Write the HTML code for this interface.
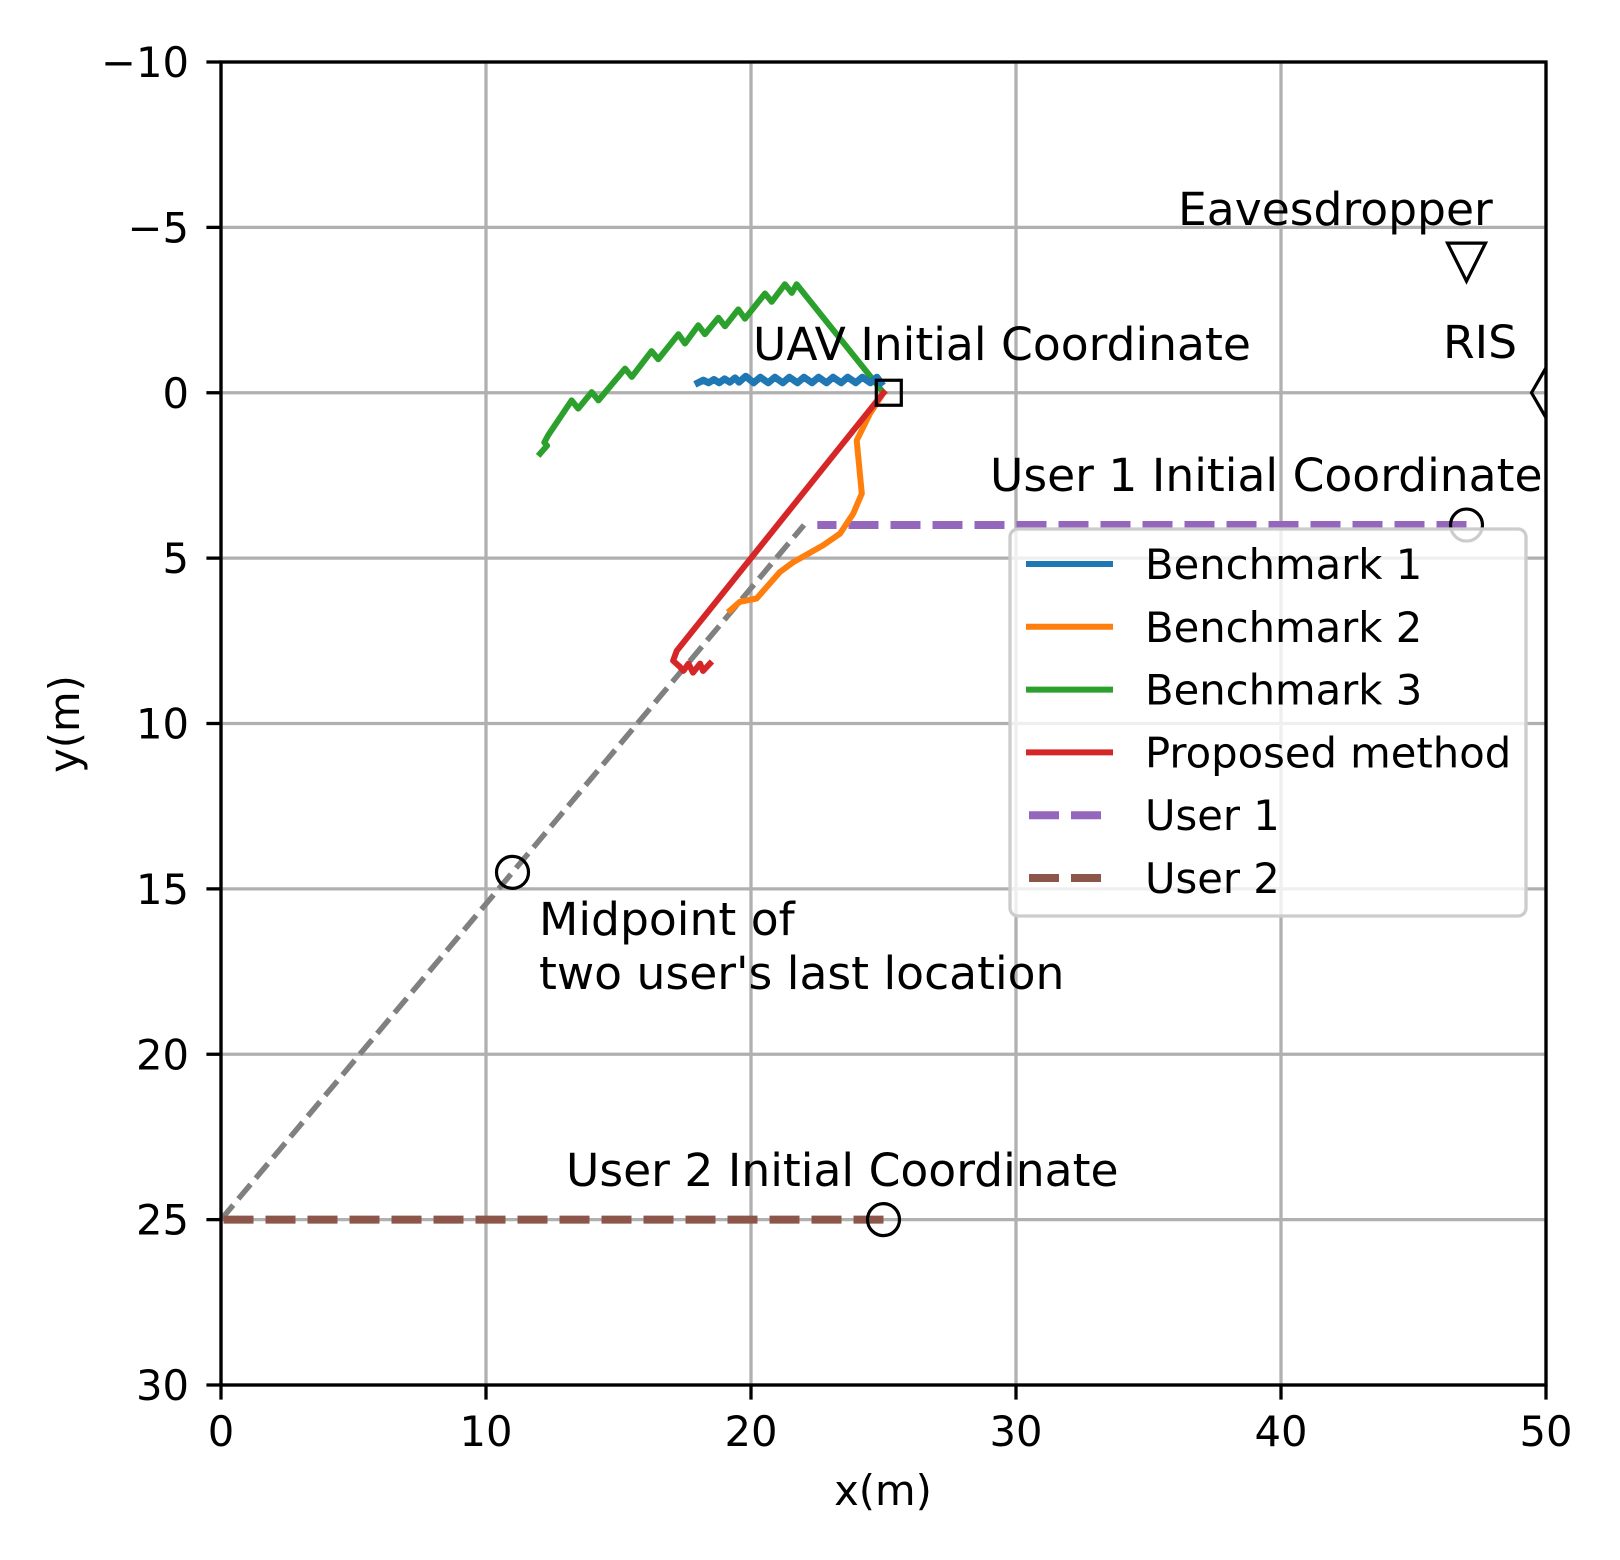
<!DOCTYPE html>
<html><head><meta charset="utf-8"><style>
html,body{margin:0;padding:0;background:#fff;}
svg{display:block;}
text{font-family:"DejaVu Sans","Liberation Sans",sans-serif;fill:#000;}
</style></head><body>
<svg id="chart" width="1620" height="1560" viewBox="0 0 1620 1560" xmlns="http://www.w3.org/2000/svg">
<defs><clipPath id="plotclip"><rect x="221" y="62" width="1325" height="1323"/></clipPath></defs>
<rect width="1620" height="1560" fill="#fff"/>
<g id="grid"></g>
<g id="series"></g>
<g id="markers" clip-path="url(#plotclip)"></g>
<g id="annotations"></g>
<g id="axes"></g>
<g id="legend"></g>
</svg>
<script>
const xTicks = [0,10,20,30,40,50];
const yTicks = [-10,-5,0,5,10,15,20,25,30];
const yTickLabels = ["\u221210","\u22125","0","5","10","15","20","25","30"];

const b1X = [24.9,24.75,24.5,24.2,23.95,23.65,23.4,23.1,22.85,22.55,22.3,22.0,21.75,21.45,21.2,20.9,20.65,20.35,20.1,19.8,19.55,19.4,19.2,19.0,18.8,18.6,18.4,18.2,18.0];
const b1Y = [-0.3,-0.47,-0.3,-0.47,-0.3,-0.47,-0.3,-0.47,-0.3,-0.47,-0.3,-0.47,-0.3,-0.47,-0.3,-0.47,-0.3,-0.47,-0.3,-0.5,-0.32,-0.45,-0.32,-0.42,-0.3,-0.4,-0.3,-0.38,-0.3];

const b2X = [25,24.49,23.99,24.18,23.86,23.36,22.73,21.6,21.09,20.21,19.58,19.21];
const b2Y = [0,0.63,1.44,3.05,3.65,4.26,4.61,5.12,5.42,6.22,6.32,6.58];

const b3X = [25,21.72,21.54,21.28,20.78,20.53,19.77,19.52,19.02,18.77,18.26,18.01,17.51,17.26,16.5,16.25,15.5,15.25,14.24,13.99,13.48,13.23,12.35,12.2,12.3,12.04];
const b3Y = [0,-3.28,-3.02,-3.28,-2.75,-3.0,-2.24,-2.52,-2.01,-2.27,-1.77,-2.04,-1.49,-1.77,-1.01,-1.26,-0.48,-0.73,0.23,-0.02,0.48,0.23,1.28,1.5,1.6,1.84];

const pmX = [25,17.2,17.06,17.32,17.45,17.64,17.81,18.08,18.19,18.45];
const pmY = [0,7.8,8.1,8.29,8.41,8.19,8.46,8.19,8.41,8.19];

const u1X = [47,22.5];
const u1Y = [4,4];
const u2X = [25,0];
const u2Y = [25,25];
const guideX = [0,22];
const guideY = [25,4];

const L=221,R=1546,T=62,B=1385;
function sx(v){return L+(v-0)/(50-0)*(R-L);}
function sy(v){return T+(v-(-10))/(30-(-10))*(B-T);}
const NS="http://www.w3.org/2000/svg";
function mk(tag,attrs,parent){const e=document.createElementNS(NS,tag);for(const k in attrs)e.setAttribute(k,attrs[k]);parent.appendChild(e);return e;}
const grid=document.getElementById('grid'),series=document.getElementById('series'),markers=document.getElementById('markers'),ann=document.getElementById('annotations'),axes=document.getElementById('axes'),legend=document.getElementById('legend');

xTicks.forEach(v=>{const l=mk('line',{x1:sx(v),x2:sx(v),y1:T,y2:B,stroke:'#b0b0b0','stroke-width':3.3},grid);

});
yTicks.forEach(v=>{const l=mk('line',{x1:L,x2:R,y1:sy(v),y2:sy(v),stroke:'#b0b0b0','stroke-width':3.3},grid);

});

function path(xs,ys,color,w,dash,name){
  let d='';xs.forEach((x,i)=>{d+=(i?'L':'M')+sx(x).toFixed(1)+' '+sy(ys[i]).toFixed(1);});
  const p=mk('path',{d:d,fill:'none',stroke:color,'stroke-width':w,'stroke-linejoin':'round','stroke-linecap':dash?'butt':'square'},series);
  if(dash)p.setAttribute('stroke-dasharray',dash);
  
  
}
path(guideX,guideY,'#808080',5.5,'19 8','midpoint-guide-line');
path(u1X,u1Y,'#9467bd',8,'30 12','user1-line');
path(u2X,u2Y,'#8c564b',8,'30 12','user2-line');
path(b2X,b2Y,'#ff7f0e',6,null,'benchmark2-line');
path(b3X,b3Y,'#2ca02c',6,null,'benchmark3-line');
path(pmX,pmY,'#d62728',6,null,'proposed-method-line');
path(b1X,b1Y,'#1f77b4',7,null,'benchmark1-line');

function circ(x,y,name){const c=mk('circle',{cx:sx(x),cy:sy(y),r:16,fill:'none',stroke:'#000','stroke-width':3.2},markers);

}
circ(47,4,'user1-initial-marker');
circ(25,25,'user2-initial-marker');
circ(11,14.5,'midpoint-marker');
const sq=mk('rect',{x:sx(25.2)-12.5,y:sy(0)-12.5,width:25,height:25,fill:'none',stroke:'#000','stroke-width':3.2},markers);


const ex=sx(47),ey=sy(-4.1);
const tri=mk('polygon',{points:`${ex-19},${ey-14} ${ex+19},${ey-14} ${ex},${ey+24}`,fill:'none',stroke:'#000','stroke-width':3.2},markers);


const rx=sx(50),ry=sy(0);
const dia=mk('polygon',{points:`${rx-14.5},${ry} ${rx},${ry-25} ${rx+14.5},${ry} ${rx},${ry+25}`,fill:'none',stroke:'#000','stroke-width':3.2},markers);



function txt(s,x,y,size,parent,name,anchor){const t=mk('text',{x:x,y:y,'font-size':size},parent);if(anchor)t.setAttribute('text-anchor',anchor);t.textContent=s;

return t;}
txt('UAV Initial Coordinate',753,360,45.6,ann,'uav-label');
txt('User 1 Initial Coordinate',990,491,45.6,ann,'user1-label');
txt('Eavesdropper',1178,225,45.6,ann,'eavesdropper-label');
txt('RIS',1443,358,45.6,ann,'ris-label');
txt('User 2 Initial Coordinate',566,1186,45.6,ann,'user2-label');
txt('Midpoint of',539,935,45.6,ann,'midpoint-label-line1');
txt("two user's last location",539,989,45.6,ann,'midpoint-label-line2');

const fr=mk('rect',{x:L,y:T,width:R-L,height:B-T,fill:'none',stroke:'#000','stroke-width':3.3},axes);


xTicks.forEach(v=>{const l=mk('line',{x1:sx(v),x2:sx(v),y1:B,y2:B+14.6,stroke:'#000','stroke-width':3.3},axes);


txt(String(v),sx(v),1446,41.7,axes,'x-tick-label','middle');});
yTicks.forEach((v,i)=>{const l=mk('line',{x1:L-14.6,x2:L,y1:sy(v),y2:sy(v),stroke:'#000','stroke-width':3.3},axes);


txt(yTickLabels[i],189,sy(v)+15,41.7,axes,'y-tick-label','end');});
txt('x(m)',883,1505,41.7,axes,'x-axis-title','middle');
const yt=txt('y(m)',0,0,41.7,axes,'y-axis-title','middle');
yt.setAttribute('transform','translate(79,724) rotate(-90)');

const lb=mk('rect',{x:1010,y:529,width:516,height:387,rx:8,fill:'#fff','fill-opacity':0.8,stroke:'#cccccc','stroke-width':3.3},legend);


const legNames=['Benchmark 1','Benchmark 2','Benchmark 3','Proposed method','User 1','User 2'];
const legColors=['#1f77b4','#ff7f0e','#2ca02c','#d62728','#9467bd','#8c564b'];
legNames.forEach((n,i)=>{const y=564+i*62.8;
 const g=mk('g',{},legend);
 
 
 const dashed=i>=4;
 const l=mk('line',{x1:dashed?1029:1026,x2:dashed?1103:1113,y1:y,y2:y,stroke:legColors[i],'stroke-width':dashed?8:6},g);
 if(dashed)l.setAttribute('stroke-dasharray','30 12');
 
 
 txt(n,1145,y+15,41.7,g,'legend-label');
});
</script>
</body></html>
